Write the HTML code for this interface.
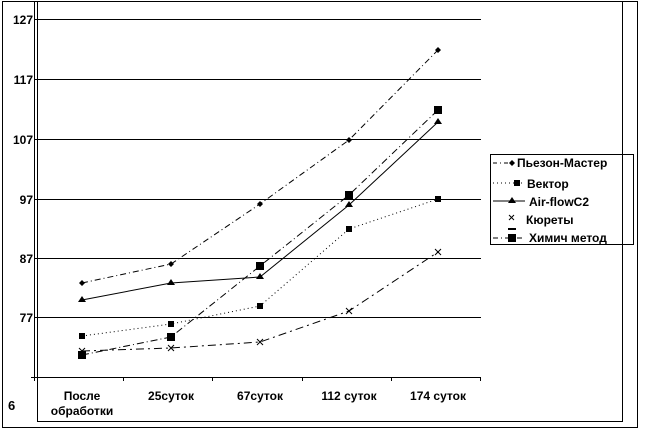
<!DOCTYPE html>
<html><head><meta charset="utf-8"><style>
body{margin:0;background:#fff}
svg text{font-family:"Liberation Sans",sans-serif;font-weight:bold;font-size:12px;fill:#000}
</style></head><body>
<svg width="662" height="435" xmlns="http://www.w3.org/2000/svg">
<rect x="2.5" y="1.5" width="635" height="426" fill="none" stroke="#000"/>
<polyline points="37.5,1.5 37.5,421.5 622.5,421.5 622.5,1.5" fill="none" stroke="#000"/>
<g stroke="#000" stroke-width="1">
<line x1="34" y1="19.5" x2="481" y2="19.5"/>
<line x1="34" y1="79.5" x2="481" y2="79.5"/>
<line x1="34" y1="139.5" x2="481" y2="139.5"/>
<line x1="34" y1="199.5" x2="481" y2="199.5"/>
<line x1="34" y1="258.5" x2="481" y2="258.5"/>
<line x1="34" y1="317.5" x2="481" y2="317.5"/>
<line x1="31" y1="377.5" x2="481" y2="377.5"/>
<line x1="34.5" y1="2" x2="34.5" y2="381"/>
<line x1="123.5" y1="377" x2="123.5" y2="381"/>
<line x1="212.5" y1="377" x2="212.5" y2="381"/>
<line x1="302.5" y1="377" x2="302.5" y2="381"/>
<line x1="391.5" y1="377" x2="391.5" y2="381"/>
<line x1="480.5" y1="377" x2="480.5" y2="381"/>
</g>
<g text-anchor="end" style="font-size:13px">
<text x="33" y="24">127</text><text x="33" y="84">117</text><text x="33" y="144">107</text>
<text x="33" y="204">97</text><text x="33" y="263">87</text><text x="33" y="322">77</text>
</g>
<text x="8" y="410" style="font-size:13px">6</text>
<g text-anchor="middle" style="font-size:13px">
<text x="82" y="400">После</text><text x="82" y="415">обработки</text>
<text x="171" y="400">25суток</text><text x="260" y="400">67суток</text>
<text x="349" y="400">112 суток</text><text x="438" y="400">174 суток</text>
</g>
<g fill="none" stroke="#000" stroke-width="1">
<polyline points="82,283 171,264 260,204 349,140 438,50" stroke-dasharray="6,3,1,3"/>
<polyline points="82,336 171,324 260,306 349,229 438,199" stroke-dasharray="1,3"/>
<polyline points="82,300 171,283 260,277 349,205 438,122"/>
<polyline points="82,351 171,348 260,342 349,311 438,252" stroke-dasharray="8,4,2,4"/>
<polyline points="82,355 171,337 260,266 349,195 438,110" stroke-dasharray="7,3,1,3"/>
</g>
<g fill="#000">
<path d="M82,280 l3,3 -3,3 -3,-3z M171,261 l3,3 -3,3 -3,-3z M260,201 l3,3 -3,3 -3,-3z M349,137 l3,3 -3,3 -3,-3z M438,47 l3,3 -3,3 -3,-3z"/>
<rect x="79" y="333" width="6" height="6"/><rect x="168" y="321" width="6" height="6"/><rect x="257" y="303" width="6" height="6"/><rect x="346" y="226" width="6" height="6"/><rect x="435" y="196" width="6" height="6"/>
<path d="M82,296 l4,6 h-8z M171,279 l4,6 h-8z M260,273 l4,6 h-8z M349,201 l4,6 h-8z M438,118 l4,6 h-8z"/>
<rect x="78" y="351" width="8" height="8"/><rect x="167" y="333" width="8" height="8"/><rect x="256" y="262" width="8" height="8"/><rect x="345" y="191" width="8" height="8"/><rect x="434" y="106" width="8" height="8"/>
</g>
<g stroke="#000" fill="none">
<path d="M79,348 l6,6 M85,348 l-6,6 M168,345 l6,6 M174,345 l-6,6 M257,339 l6,6 M263,339 l-6,6 M346,308 l6,6 M352,308 l-6,6 M435,249 l6,6 M441,249 l-6,6"/>
</g>
<rect x="490.5" y="154.5" width="143" height="90" fill="none" stroke="#000"/>
<g stroke="#000" fill="none">
<line x1="493" y1="163" x2="515" y2="163" stroke-dasharray="4,3,1,3"/>
<line x1="493" y1="183" x2="525" y2="183" stroke-dasharray="1,3"/>
<line x1="493" y1="201" x2="525" y2="201"/>
<line x1="493" y1="238" x2="525" y2="238" stroke-dasharray="5,3,1,3"/>
<path d="M509,215 l5,5 M514,215 l-5,5"/>
</g>
<g fill="#000">
<path d="M512,160 l3,3 -3,3 -3,-3z"/>
<rect x="514" y="180" width="6" height="6"/>
<path d="M512,197 l4,6 h-8z"/>
<rect x="508" y="234" width="8" height="8"/>
<rect x="508" y="228" width="8" height="2"/>
</g>
<text x="517" y="167">Пьезон-Мастер</text>
<text x="527" y="188">Вектор</text>
<text x="529" y="206">Air-flowC2</text>
<text x="526" y="224">Кюреты</text>
<text x="529" y="242">Химич метод</text>
</svg>
</body></html>
